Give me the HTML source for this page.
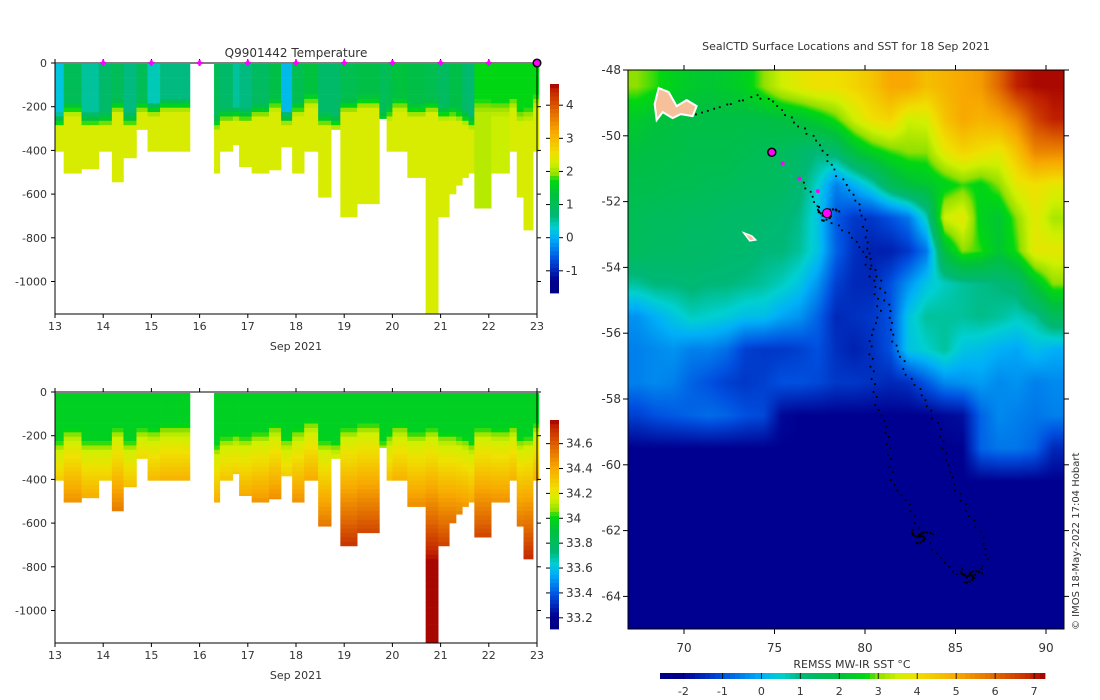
<!DOCTYPE html>
<html><head><meta charset="utf-8">
<style>
html,body{margin:0;padding:0;background:#fff;}
#wrap{position:relative;width:1100px;height:700px;overflow:hidden;font-family:"DejaVu Sans","Liberation Sans",sans-serif;}
#sst{position:absolute;left:628px;top:70px;}
#svg{position:absolute;left:0;top:0;}
text{font-family:"DejaVu Sans","Liberation Sans",sans-serif;font-size:11px;fill:#333;}
</style></head>
<body>
<div id="wrap">
<canvas id="sst" width="436" height="559"></canvas>
<svg id="svg" width="1100" height="700"></svg>
</div>
<script>
// ---------- profile data ----------
const profStart=[13.00,13.18,13.55,13.91,14.18,14.42,14.69,14.92,15.18,16.30,16.42,16.69,16.82,17.08,17.44,17.69,17.92,18.17,18.46,18.73,18.92,19.27,19.73,19.88,20.00,20.31,20.69,20.95,21.18,21.32,21.45,21.58,21.70,22.05,22.43,22.58,22.72,22.92];
const profEnd=[13.18,13.55,13.91,14.18,14.42,14.69,14.92,15.18,15.80,16.42,16.69,16.82,17.08,17.44,17.69,17.92,18.17,18.46,18.73,18.92,19.27,19.73,19.88,20.00,20.31,20.69,20.95,21.18,21.32,21.45,21.58,21.70,22.05,22.43,22.58,22.72,22.92,23.04];
const profDepth=[400,500,480,400,540,430,300,400,400,500,400,370,470,500,485,380,500,400,610,300,700,640,250,400,400,520,1150,700,595,555,520,500,660,500,400,610,760,400];
const profMld=[250,200,250,250,190,250,190,200,180,270,230,220,230,210,180,240,200,160,250,260,190,170,250,220,180,210,190,220,220,230,240,260,190,200,180,240,230,170];
const profTsurf=[0.2,1.0,0.5,0.8,1.0,0.6,1.0,0.4,0.6,1.0,0.8,0.5,0.6,0.9,1.2,0.1,1.1,1.3,0.8,0.8,1.1,1.2,1.0,1.1,1.3,1.2,1.1,0.9,1.2,1.2,0.8,0.7,1.7,1.7,1.7,1.7,1.7,1.7];
const profTdeep=[2.3,2.3,2.3,2.3,2.3,2.3,2.3,2.3,2.3,2.3,2.3,2.3,2.3,2.3,2.3,2.3,2.3,2.3,2.3,2.3,2.3,2.3,2.3,2.3,2.3,2.3,2.3,2.3,2.3,2.3,2.3,2.3,2.1,2.2,2.3,2.3,2.3,2.3];
const markerDays=[14,15,16,17,18,19,20,21,22];
const dayTicks=[13,14,15,16,17,18,19,20,21,22,23];
const depthTicks=[0,-200,-400,-600,-800,-1000];
const tempTicks=[4,3,2,1,0,-1];
const salTicks=[34.6,34.4,34.2,34,33.8,33.6,33.4,33.2];
// ---------- SST data (rows lat -48.5..-64.5, cols lon 67.4..90.4) ----------
const sstRow0=[3.0,2.8,2.5,2.3,2.2,2.3,2.5,3.0,3.5,3.8,4.0,4.0,4.2,4.5,5.0,5.0,4.6,4.8,5.0,5.2,6.0,7.0,7.2,7.2];
const sstRow1=[2.3,2.1,2.0,1.9,1.9,1.9,1.9,1.9,2.0,2.1,2.4,2.8,3.5,4.0,4.2,3.5,3.6,4.5,5.0,4.8,5.0,5.5,6.5,7.0];
const sstRow2=[2.0,1.9,1.9,1.8,1.8,1.8,1.7,1.6,1.5,1.3,1.0,1.2,2.0,2.5,2.8,3.0,3.0,3.8,4.2,4.0,3.8,4.5,5.5,5.5];
const sstRow3=[1.8,1.8,1.7,1.7,1.6,1.6,1.5,1.5,1.4,1.1,0.5,-0.5,0.0,0.6,1.5,2.0,2.2,2.5,2.8,2.6,3.0,3.8,4.0,3.8];
const sstRow4=[1.6,1.5,1.5,1.4,1.4,1.3,1.3,1.2,1.1,0.9,0.3,-0.9,-1.3,-1.3,-1.0,-0.6,0.6,3.5,3.8,2.5,2.2,3.0,3.8,3.2];
const sstRow5=[1.5,1.4,1.4,1.3,1.3,1.2,1.2,1.0,1.0,0.8,0.3,-0.8,-1.4,-1.6,-1.6,-1.3,-0.6,2.0,3.0,2.8,2.2,2.8,3.8,3.8];
const sstRow6=[0.8,1.0,1.0,1.1,1.0,1.0,0.9,0.8,0.6,0.3,-0.3,-1.2,-1.5,-1.5,-1.0,-0.3,0.3,0.6,0.8,0.9,1.0,1.2,2.2,3.0];
const sstRow7=[-0.3,0.0,0.3,0.6,0.5,0.4,0.2,0.2,-0.1,-0.3,-0.8,-1.5,-1.4,-1.3,-1.0,0.3,0.8,0.8,0.8,0.9,0.8,0.6,0.8,1.5];
const sstRow8=[-0.5,-0.4,-0.3,-0.5,-0.5,-0.7,-1.2,-1.3,-1.3,-1.2,-1.0,-1.4,-1.6,-1.4,-1.0,0.3,0.5,0.8,0.3,0.2,0.0,-0.1,0.2,0.0];
const sstRow9=[-0.5,-0.4,-0.5,-0.8,-1.0,-1.2,-1.3,-1.2,-1.0,-1.0,-1.1,-1.3,-1.3,-1.4,-1.5,-1.4,-0.9,-0.4,-0.3,-0.2,-0.4,-0.3,-0.5,-0.4];
const sstRow10=[-1.2,-1.0,-0.9,-0.8,-0.7,-0.8,-1.0,-1.1,-1.9,-2.0,-2.0,-2.0,-2.0,-2.0,-2.0,-2.0,-2.0,-1.9,-1.8,-0.8,-0.4,-0.5,-0.6,-0.5];
const sstRow11=[-2.0,-2.0,-2.0,-2.0,-2.0,-2.0,-2.0,-2.0,-2.0,-2.0,-2.0,-2.0,-2.0,-2.0,-2.0,-2.0,-2.0,-2.0,-2.0,-0.8,-0.6,-0.6,-0.8,-1.5];
const sstRowCold=[-2.0,-2.0,-2.0,-2.0,-2.0,-2.0,-2.0,-2.0,-2.0,-2.0,-2.0,-2.0,-2.0,-2.0,-2.0,-2.0,-2.0,-2.0,-2.0,-2.0,-2.0,-2.0,-2.0,-2.0];
const sstGrid=[sstRow0,sstRow1,sstRow2,sstRow3,sstRow4,sstRow5,sstRow6,sstRow7,sstRow8,sstRow9,sstRow10,sstRow11,sstRowCold,sstRowCold,sstRowCold,sstRowCold,sstRowCold];
const sstTicks=[-2,-1,0,1,2,3,4,5,6,7];
const lonTicks=[70,75,80,85,90];
const latTicks=[-48,-50,-52,-54,-56,-58,-60,-62,-64];
// ---------- track ----------
const trackLon=[70.66,72.32,73.99,74.91,75.65,76.38,77.31,77.86,78.23,78.97,79.52,79.89,80.07,80.26,80.81,81.37,81.55,82.01,82.29,83.03,83.58,84.13,84.50,85.06,85.79,86.53,86.72,85.98,84.87,83.76,83.03,82.47,81.55,81.37,81.18,80.63,80.44,80.26,80.81,80.44,79.89,79.34,78.23,77.49,76.94,76.20];
const trackLat=[-49.35,-49.07,-48.79,-48.96,-49.35,-49.69,-50.14,-50.60,-51.05,-51.50,-51.95,-52.40,-53.08,-53.76,-54.43,-55.34,-56.24,-56.69,-57.25,-57.71,-58.38,-58.94,-59.85,-60.75,-61.54,-62.22,-62.90,-63.46,-63.24,-62.56,-62.11,-61.21,-60.64,-59.85,-58.84,-58.16,-57.37,-56.24,-55.34,-54.43,-53.53,-53.08,-52.63,-52.29,-51.72,-51.16];
const clusterLon=[77.9,85.8,83.1];
const clusterLat=[-52.35,-63.35,-62.16];
const magLon=[74.85,75.45,76.38,77.4];
const magLat=[-50.5,-50.84,-51.3,-51.68];

// ---------- palette ----------
const stops=[[0,0,0,128],[0.061,0,0,144],[0.162,0,80,224],[0.263,0,176,248],[0.314,0,208,208],[0.364,0,184,120],[0.466,0,192,64],[0.537,0,216,16],[0.567,144,224,0],[0.618,208,240,0],[0.668,240,224,0],[0.77,248,168,0],[0.87,224,104,0],[0.972,192,32,0],[1,160,0,0]];
function pal(f){f=Math.max(0,Math.min(1,f));for(let i=1;i<stops.length;i++){if(f<=stops[i][0]){const a=stops[i-1],b=stops[i],t=(f-a[0])/(b[0]-a[0]);return [a[1]+t*(b[1]-a[1]),a[2]+t*(b[2]-a[2]),a[3]+t*(b[3]-a[3])].map(Math.round);}}return [160,0,0];}
function rgb(c){return 'rgb('+c[0]+','+c[1]+','+c[2]+')';}

const NS='http://www.w3.org/2000/svg';
const svg=document.getElementById('svg');
function el(tag,attrs,parent){const e=document.createElementNS(NS,tag);for(const k in attrs)e.setAttribute(k,attrs[k]);(parent||svg).appendChild(e);return e;}
function txt(x,y,s,anchor,parent,size){const t=el('text',{x:x,y:y,'text-anchor':anchor||'middle'},parent);if(size)t.style.fontSize=size+'px';t.textContent=s;return t;}

// ---------- profile panels ----------
const PX0=55,PX1=537;
function xDay(d){return PX0+(d-13)*(PX1-PX0)/10;}
function panel(name,y0,yb,kind){
  const g=el('g',{});
  
  
  const scale=0.2185, ybot=yb;
  const yD=z=>y0+z*scale;
  for(let i=0;i<profStart.length;i++){
    const x0=xDay(profStart[i]),x1=xDay(profEnd[i]);
    const col=el('g',{},g);
    
    
    const step=20;
    for(let z=0;z<profDepth[i];z+=step){
      const zm=z+step/2,m=profMld[i];let v,f;
      if(kind==='T'){
        const a=profTsurf[i],b=profTdeep[i];
        if(zm<m-30)v=a;else if(zm>m+40)v=b;else v=a+(b-a)*(zm-(m-30))/70;
        f=(v+1.67)/6.31;
      }else{
        if(zm<m-40)v=33.97;else if(zm<m+20)v=33.97+0.18*(zm-(m-40))/60;else v=Math.min(34.78,34.15+0.45*(zm-m-20)/400);
        f=(v-33.11)/1.68;
      }
      const yt=yD(z)+1, yb2=Math.min(ybot,yD(Math.min(z+step,profDepth[i]))+1);
      el('rect',{x:x0,y:yt,width:x1-x0+0.3,height:Math.max(0,yb2-yt+0.3),fill:rgb(pal(f))},col);
    }
  }
  el('rect',{x:PX0,y:y0,width:PX1-PX0,height:ybot-y0,fill:'none',stroke:'#000','stroke-width':1},g);
  dayTicks.forEach(d=>{const x=xDay(d);el('line',{x1:x,x2:x,y1:ybot,y2:ybot+4,stroke:'#000'},g);el('line',{x1:x,x2:x,y1:y0,y2:y0-4,stroke:'#000'},g);
    const t=txt(x,ybot+16,String(d),'middle',g);});
  depthTicks.forEach(v=>{const y=yD(-v);el('line',{x1:PX0-4,x2:PX0,y1:y,y2:y,stroke:'#000'},g);el('line',{x1:PX1,x2:PX1+4,y1:y,y2:y,stroke:'#000'},g);
    const t=txt(47,y+4,String(v),'end',g);});
  const xl=txt(296,ybot+36,'Sep 2021','middle',g);
  return g;
}
panel('temperature-panel',63,314,'T');
panel('salinity-panel',392,643,'S');
const t1=txt(296,57,'Q9901442  Temperature','middle');
t1.style.fontSize='12px';



markerDays.forEach(d=>{const m=el('path',{d:'M'+(xDay(d)-3)+',63 L'+(xDay(d)+3)+',63 M'+xDay(d)+',60 L'+xDay(d)+',66',stroke:'#f0f','stroke-width':2});
  
  
  el('circle',{cx:xDay(d),cy:63,r:2.2,fill:'#f0f'});});
const lastM=el('circle',{cx:xDay(23),cy:63,r:3.8,fill:'#f0f',stroke:'#000','stroke-width':1.5});



function cbar(name,x,y0,y1,vmin,vmax,ticks){
  const g=el('g',{});
  
  
  const n=50,h=(y1-y0)/n;
  for(let i=0;i<n;i++){const f=1-(i+0.5)/n;el('rect',{x:x,y:y0+i*h,width:9,height:h+0.4,fill:rgb(pal(f))},g);}
  ticks.forEach(v=>{const y=y1-(v-vmin)/(vmax-vmin)*(y1-y0);el('line',{x1:x-4,x2:x,y1:y,y2:y,stroke:'#000'},g);el('line',{x1:x+9,x2:x+13,y1:y,y2:y,stroke:'#000'},g);
    const t=txt(x+16,y+4,String(v),'start',g,12);});
}
cbar('temperature-colorbar',550,84,293,-1.67,4.64,tempTicks);
cbar('salinity-colorbar',550,420,629,33.11,34.79,salTicks);

// ---------- map ----------
const MX0=628,MX1=1064,MY0=70,MY1=629;
function lonX(l){return 684+(l-70)*18.1;}
function latY(l){return 70+(-48-l)*32.9;}
(function(){
  const c=document.getElementById('sst'),ctx=c.getContext('2d');
  const W=c.width,H=c.height,img=ctx.createImageData(W,H);
  const nr=sstGrid.length,nc=sstGrid[0].length;
  for(let py=0;py<H;py++){
    const lat=-48-(py+0.5)/32.9, gy=Math.max(0,Math.min(nr-1,(-48.5-lat)));
    const r0=Math.floor(gy),r1=Math.min(nr-1,r0+1),ty=gy-r0;
    for(let px=0;px<W;px++){
      const lon=70+(MX0+px+0.5-684)/18.1, gx=Math.max(0,Math.min(nc-1,lon-67.4));
      const c0=Math.floor(gx),c1=Math.min(nc-1,c0+1),tx=gx-c0;
      const v=(sstGrid[r0][c0]*(1-tx)+sstGrid[r0][c1]*tx)*(1-ty)+(sstGrid[r1][c0]*(1-tx)+sstGrid[r1][c1]*tx)*ty;
      const col=pal((v+2.6)/9.88),k=(py*W+px)*4;
      img.data[k]=col[0];img.data[k+1]=col[1];img.data[k+2]=col[2];img.data[k+3]=255;
    }
  }
  ctx.putImageData(img,0,0);
})();
const mg=el('g',{});


const isl=el('path',{d:'M'+lonX(68.6)+','+latY(-48.55)+' l10,4 l8,14 l10,-6 l10,6 l-4,10 l-12,-2 l-8,4 l-10,-6 l-6,8 l-2,-16 z',fill:'#f5c09a',stroke:'#fff','stroke-width':2},mg);


const hi=el('path',{d:'M'+lonX(73.3)+','+latY(-52.95)+' l8,3 l4,4 l-6,1 z',fill:'#f5c09a',stroke:'#fff','stroke-width':1.5},mg);


for(let i=0;i<trackLon.length-1;i++){
  const xa=lonX(trackLon[i]),ya=latY(trackLat[i]),xb=lonX(trackLon[i+1]),yb=latY(trackLat[i+1]);
  const L=Math.hypot(xb-xa,yb-ya),n=Math.max(1,Math.round(L/6));
  for(let j=0;j<n;j++){const t=j/n,o=Math.sin(i*7.3+j*3.1)*1.5;
    const d=el('rect',{x:xa+t*(xb-xa)+o-0.9,y:ya+t*(yb-ya)-o*0.6-0.9,width:1.8,height:1.8,fill:'#000'},mg);
    
    }
}
clusterLon.forEach((lo,i)=>{for(let j=0;j<30;j++){const a=j*2.4,r=(j%7)*1.3;
  el('rect',{x:lonX(lo)+Math.cos(a)*r*1.6-1,y:latY(clusterLat[i])+Math.sin(a)*r-1,width:2,height:2,fill:'#000'},mg);}});
magLon.forEach((lo,i)=>{const m=el('circle',{cx:lonX(lo),cy:latY(magLat[i]),r:i===0?4:2,fill:'#f0f',stroke:i===0?'#000':'none','stroke-width':1.5},mg);
  
  });
const cur=el('circle',{cx:lonX(77.9),cy:latY(-52.35),r:4.5,fill:'#f0f',stroke:'#000','stroke-width':1},mg);


el('rect',{x:MX0,y:MY0,width:MX1-MX0,height:MY1-MY0,fill:'none',stroke:'#000','stroke-width':1},mg);
lonTicks.forEach(l=>{const x=lonX(l);el('line',{x1:x,x2:x,y1:MY0-5,y2:MY0,stroke:'#000'},mg);el('line',{x1:x,x2:x,y1:MY1,y2:MY1+5,stroke:'#000'},mg);
  const t=txt(x,652,String(l),'middle',mg,12);});
latTicks.forEach(l=>{const y=latY(l);el('line',{x1:MX0-5,x2:MX0,y1:y,y2:y,stroke:'#000'},mg);el('line',{x1:MX1,x2:MX1+5,y1:y,y2:y,stroke:'#000'},mg);
  const t=txt(621,y+4,String(l),'end',mg,12);});
const mt=txt(846,50,'SealCTD Surface Locations and SST for 18 Sep 2021','middle');


const cr=txt(0,0,'\u00a9 IMOS 18-May-2022 17:04 Hobart','start');
cr.setAttribute('transform','translate(1079,630) rotate(-90)');
cr.style.fontSize='10px';


const sg=el('g',{});


for(let i=0;i<77;i++){const f=(i+0.5)/77;el('rect',{x:660+i*5,y:673,width:5.4,height:6,fill:rgb(pal(f))},sg);}
sstTicks.forEach(v=>{const x=660+(v+2.6)/9.88*385;el('line',{x1:x,x2:x,y1:673,y2:679,stroke:'#000','stroke-width':0.8},sg);
  const t=txt(x,695,String(v),'middle',sg);});
const st=txt(852,668,'REMSS MW-IR SST \u00b0C','middle');


</script>
</body></html>
